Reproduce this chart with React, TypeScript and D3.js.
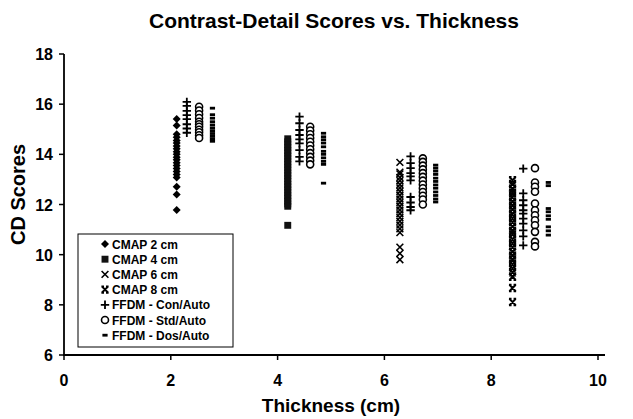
import React from 'react';
import * as d3 from 'd3';

const W = 633;
const H = 419;

const xTicks = [0, 2, 4, 6, 8, 10];
const yTicks = [6, 8, 10, 12, 14, 16, 18];

const seriesNames = ['CMAP 2 cm', 'CMAP 4 cm', 'CMAP 6 cm', 'CMAP 8 cm', 'FFDM - Con/Auto', 'FFDM - Std/Auto', 'FFDM - Dos/Auto'];

// x positions of each column (thickness, slightly offset per system)
const cmapX = [2.11, 4.19, 6.29, 8.4];
const conX = [2.3, 4.41, 6.49, 8.6];
const stdX = [2.53, 4.61, 6.72, 8.82];
const dosX = [2.78, 4.86, 6.96, 9.07];

// CMAP scores, one list per thickness
const cmap2 = [15.41, 15.15, 14.8, 14.68, 14.55, 14.45, 14.33, 14.22, 14.1, 14.0, 13.88, 13.78, 13.66, 13.55, 13.44, 13.32, 13.2, 13.08, 12.71, 12.4, 11.78];
const cmap4 = [14.62, 14.5, 14.38, 14.27, 14.15, 14.05, 13.93, 13.82, 13.7, 13.6, 13.48, 13.37, 13.25, 13.15, 13.03, 12.92, 12.8, 12.7, 12.58, 12.47, 12.35, 12.25, 12.13, 12.02, 11.93, 11.17];
const cmap6 = [13.68, 13.29, 13.22, 13.08, 12.95, 12.8, 12.66, 12.52, 12.37, 12.22, 12.08, 11.93, 11.78, 11.63, 11.48, 11.33, 11.18, 11.03, 10.88, 10.3, 10.05, 9.8];
const cmap8 = [12.97, 12.82, 12.63, 12.47, 12.3, 12.12, 11.96, 11.8, 11.62, 11.46, 11.3, 11.12, 10.95, 10.8, 10.62, 10.46, 10.3, 10.12, 9.96, 9.8, 9.62, 9.46, 9.3, 9.12, 8.67, 8.11];

// FFDM Con/Auto
const con2 = [16.09, 15.93, 15.73, 15.56, 15.4, 15.2, 15.03, 14.86];
const con4 = [15.5, 15.24, 14.97, 14.77, 14.6, 14.44, 14.17, 13.9, 13.72];
const con6 = [13.92, 13.65, 13.45, 13.25, 13.12, 12.96, 12.3, 12.08, 11.9, 11.77];
const con8 = [13.43, 12.44, 12.17, 11.97, 11.77, 11.64, 11.44, 11.24, 10.97, 10.73, 10.37];

// FFDM Std/Auto
const std2 = [15.9, 15.75, 15.6, 15.45, 15.3, 15.2, 15.1, 14.98, 14.88, 14.76, 14.65];
const std4 = [15.1, 14.95, 14.8, 14.65, 14.5, 14.35, 14.2, 14.05, 13.9, 13.75, 13.6];
const std6 = [13.84, 13.7, 13.55, 13.4, 13.25, 13.1, 12.95, 12.8, 12.65, 12.5, 12.35, 12.2, 12.0];
const std8 = [13.45, 12.88, 12.71, 12.51, 12.04, 11.77, 11.57, 11.37, 11.17, 10.91, 10.51, 10.33];

// FFDM Dos/Auto
const dos2 = [15.84, 15.58, 15.44, 15.3, 15.17, 15.05, 14.94, 14.83, 14.72, 14.62, 14.52];
const dos4 = [14.84, 14.7, 14.58, 14.45, 14.3, 14.12, 14.0, 13.86, 13.72, 13.6, 12.85];
const dos6 = [13.57, 13.45, 13.33, 13.2, 13.05, 12.92, 12.78, 12.65, 12.5, 12.36, 12.22, 12.1];
const dos8 = [12.88, 12.75, 11.84, 11.71, 11.55, 11.41, 11.11, 10.95, 10.78];

const font = "'Liberation Sans', Arial, Helvetica, sans-serif";

type Marker = 'diamond' | 'square' | 'cross' | 'star' | 'plus' | 'circle' | 'dash';
const markers: Marker[] = ['diamond', 'square', 'cross', 'star', 'plus', 'circle', 'dash'];

const x = d3.scaleLinear().domain([0, 10]).range([64, 598]);
const y = d3.scaleLinear().domain([6, 18]).range([355, 54]);

const squarePath = d3.symbol(d3.symbolSquare, 48)()!;

function Mark({ type, cx, cy }: { type: Marker; cx: number; cy: number }) {
  const t = `translate(${cx},${cy})`;
  switch (type) {
    case 'diamond':
      return <path transform={t} d="M0,-4L4,0L0,4L-4,0Z" fill="#000" />;
    case 'square':
      return <path transform={t} d={squarePath} fill="#111" />;
    case 'cross':
      return <path transform={t} d="M-3.4,-3.4L3.4,3.4M-3.4,3.4L3.4,-3.4" stroke="#000" strokeWidth={1.6} fill="none" />;
    case 'star':
      return <path transform={t} d="M-3.2,-3.2L3.2,3.2M-3.2,3.2L3.2,-3.2M-3.6,-3.2L-1,-3.2M1,-3.2L3.6,-3.2M-3.6,3.2L-1,3.2M1,3.2L3.6,3.2" stroke="#000" strokeWidth={2} fill="none" />;
    case 'plus':
      return <path transform={t} d="M-4.2,0L4.2,0M0,-4.2L0,4.2" stroke="#000" strokeWidth={1.8} fill="none" />;
    case 'circle':
      return <circle cx={cx} cy={cy} r={3.5} fill="#fff" stroke="#000" strokeWidth={1.6} />;
    case 'dash':
      return <rect x={cx - 2.6} y={cy - 1.4} width={5.2} height={2.8} fill="#000" />;
  }
}

const cmapCols = [cmap2, cmap4, cmap6, cmap8];
const conCols = [con2, con4, con6, con8];
const stdCols = [std2, std4, std6, std8];
const dosCols = [dos2, dos4, dos6, dos8];

export default function App() {
  const points: { type: Marker; px: number; py: number }[] = [];
  cmapCols.forEach((col, i) => col.forEach(v => points.push({ type: markers[i], px: x(cmapX[i]), py: y(v) })));
  const ffdm: [number[][], number[], Marker][] = [
    [conCols, conX, 'plus'],
    [stdCols, stdX, 'circle'],
    [dosCols, dosX, 'dash'],
  ];
  ffdm.forEach(([cols, xs, m]) => cols.forEach((col, i) => col.forEach(v => points.push({ type: m, px: x(xs[i]), py: y(v) }))));

  const legX = 78, legY = 234, legW = 155, legH = 113;

  return (
    <svg width={W} height={H} style={{ position: 'absolute', left: 0, top: 0, background: '#fff' }} fontFamily={font}>
      <rect width={W} height={H} fill="#fff" />
      <text x={334} y={28} textAnchor="middle" fontSize={21} fontWeight="bold">Contrast-Detail Scores vs. Thickness</text>

      {/* axes */}
      <line x1={x(0)} x2={x(0)} y1={y(18)} y2={y(6) + 1} stroke="#000" strokeWidth={1.8} />
      <line x1={x(0) - 1} x2={605} y1={y(6)} y2={y(6)} stroke="#000" strokeWidth={2} />
      {yTicks.map(t => (
        <g key={'y' + t}>
          <line x1={x(0) - 5} x2={x(0)} y1={y(t)} y2={y(t)} stroke="#000" strokeWidth={1.5} />
          <text x={53} y={y(t) + 6} textAnchor="end" fontSize={16} fontWeight="bold">{t}</text>
        </g>
      ))}
      {xTicks.map(t => (
        <g key={'x' + t}>
          <line x1={x(t)} x2={x(t)} y1={y(6)} y2={y(6) + 5} stroke="#000" strokeWidth={1.5} />
          <text x={x(t)} y={386} textAnchor="middle" fontSize={16} fontWeight="bold">{t}</text>
        </g>
      ))}
      <text x={331} y={412} textAnchor="middle" fontSize={19} fontWeight="bold">Thickness (cm)</text>
      <text transform={`translate(25,${y(12.4)}) rotate(-90)`} textAnchor="middle" fontSize={20} fontWeight="bold">CD Scores</text>

      {points.map((p, i) => <Mark key={i} type={p.type} cx={p.px} cy={p.py} />)}

      {/* legend */}
      <rect x={legX} y={legY} width={legW} height={legH} fill="#fff" stroke="#000" strokeWidth={1} />
      {seriesNames.map((name, i) => {
        const cy = legY + 10 + i * 15.2;
        return (
          <g key={name}>
            <Mark type={markers[i]} cx={105} cy={cy} />
            <text x={112} y={cy + 4.5} fontSize={12} fontWeight="bold">{name}</text>
          </g>
        );
      })}
    </svg>
  );
}
